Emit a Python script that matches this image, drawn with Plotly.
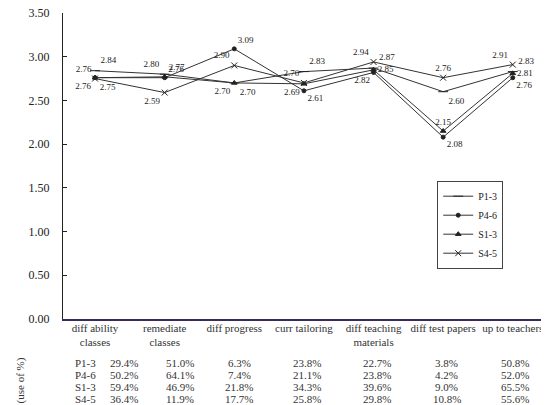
import plotly.graph_objects as go

categories = ["diff ability<br>classes", "remediate<br>classes", "diff progress",
              "curr tailoring", "diff teaching<br>materials", "diff test papers",
              "up to teachers"]

groups = ["P1-3", "P4-6", "S1-3", "S4-5"]

p13 = [2.84, 2.80, 2.70, 2.83, 2.87, 2.60, 2.83]
p46 = [2.76, 2.76, 3.09, 2.61, 2.82, 2.08, 2.76]
s13 = [2.76, 2.77, 2.70, 2.69, 2.85, 2.15, 2.81]
s45 = [2.75, 2.59, 2.90, 2.70, 2.94, 2.76, 2.91]

use_p13 = ["29.4%", "51.0%", "6.3%", "23.8%", "22.7%", "3.8%", "50.8%"]
use_p46 = ["50.2%", "64.1%", "7.4%", "21.1%", "23.8%", "4.2%", "52.0%"]
use_s13 = ["59.4%", "46.9%", "21.8%", "34.3%", "39.6%", "9.0%", "65.5%"]
use_s45 = ["36.4%", "11.9%", "17.7%", "25.8%", "29.8%", "10.8%", "55.6%"]

serif = "Liberation Serif, Times New Roman, serif"
xs = list(range(len(categories)))

series = [
    ("P1-3", p13, "line-ew-open", 7,
     ["top right", "top left", "bottom right", "top right", "top right", "bottom right", "top right"]),
    ("P4-6", p46, "circle", 4,
     ["top left", "top right", "top right", "bottom right", "bottom left", "bottom right", "bottom right"]),
    ("S1-3", s13, "triangle-up", 5,
     ["bottom left", "top right", "bottom left", "bottom left", "middle right", "top center", "middle right"]),
    ("S4-5", s45, "x-thin-open", 6,
     ["bottom right", "bottom left", "top left", "top left", "top left", "top center", "top left"]),
]

fig = go.Figure()
for name, vals, sym, size, pos in series:
    fig.add_trace(go.Scatter(
        x=xs, y=vals, name=name, mode="lines+markers+text",
        text=[f"{v:.2f}" for v in vals], textposition=pos,
        textfont=dict(family=serif, size=9, color="#222"),
        line=dict(color="#333", width=1),
        marker=dict(symbol=sym, size=size, color="#222", line=dict(color="#222", width=1)),
    ))

# usage table below the axis
offsets = [0.42, 0.22, 0.07, 0.04, 0.05, 0.05, 0.03]
rows = [use_p13, use_p46, use_s13, use_s45]
ann = []
for r, (g, row) in enumerate(zip(groups, rows)):
    y = -0.144 - r * 0.039
    ann.append(dict(x=0.0, y=y, xref="paper", yref="paper", text=g, showarrow=False,
                    xanchor="left", yanchor="middle", xshift=10,
                    font=dict(family=serif, size=11, color="#333")))
    for i, t in enumerate(row):
        ann.append(dict(x=i + offsets[i], y=y, xref="x", yref="paper", text=t, showarrow=False,
                        yanchor="middle", font=dict(family=serif, size=11, color="#333")))
ann.append(dict(x=-0.088, y=-0.2, xref="paper", yref="paper", text="(use of %)",
                textangle=-90, xanchor="center", yanchor="middle", showarrow=False,
                font=dict(family=serif, size=11, color="#333")))

# page body keeps an 8px margin, so the figure is sized to the visible window
fig.update_layout(
    width=541, height=397,
    margin=dict(l=55, r=0, t=5, b=86, autoexpand=False),
    paper_bgcolor="white", plot_bgcolor="white",
    showlegend=True,
    legend=dict(x=0.77, y=0.452, xanchor="left", yanchor="top",
                bordercolor="#444", borderwidth=1, bgcolor="white",
                font=dict(family=serif, size=10, color="#222"),
                tracegroupgap=0, itemwidth=30),
    xaxis=dict(range=[-0.46, 6.52], tickmode="array", tickvals=xs, ticktext=categories,
               showline=True, linecolor="#3a2a5a", linewidth=1.5, ticks="",
               showgrid=False, zeroline=False, automargin=False, ticklabelstandoff=-2,
               ticklabeloverflow="allow",
               tickfont=dict(family=serif, size=11, color="#333")),
    yaxis=dict(range=[0, 3.5], dtick=0.5, tickformat=".2f", showline=True,
               linecolor="#222", linewidth=1, ticks="inside", ticklen=4, tickcolor="#222",
               showgrid=False, zeroline=False, ticklabelstandoff=10, automargin=False,
               ticklabeloverflow="allow",
               tickfont=dict(family=serif, size=12, color="#222")),
    annotations=ann,
)

fig.write_html("out.html")
